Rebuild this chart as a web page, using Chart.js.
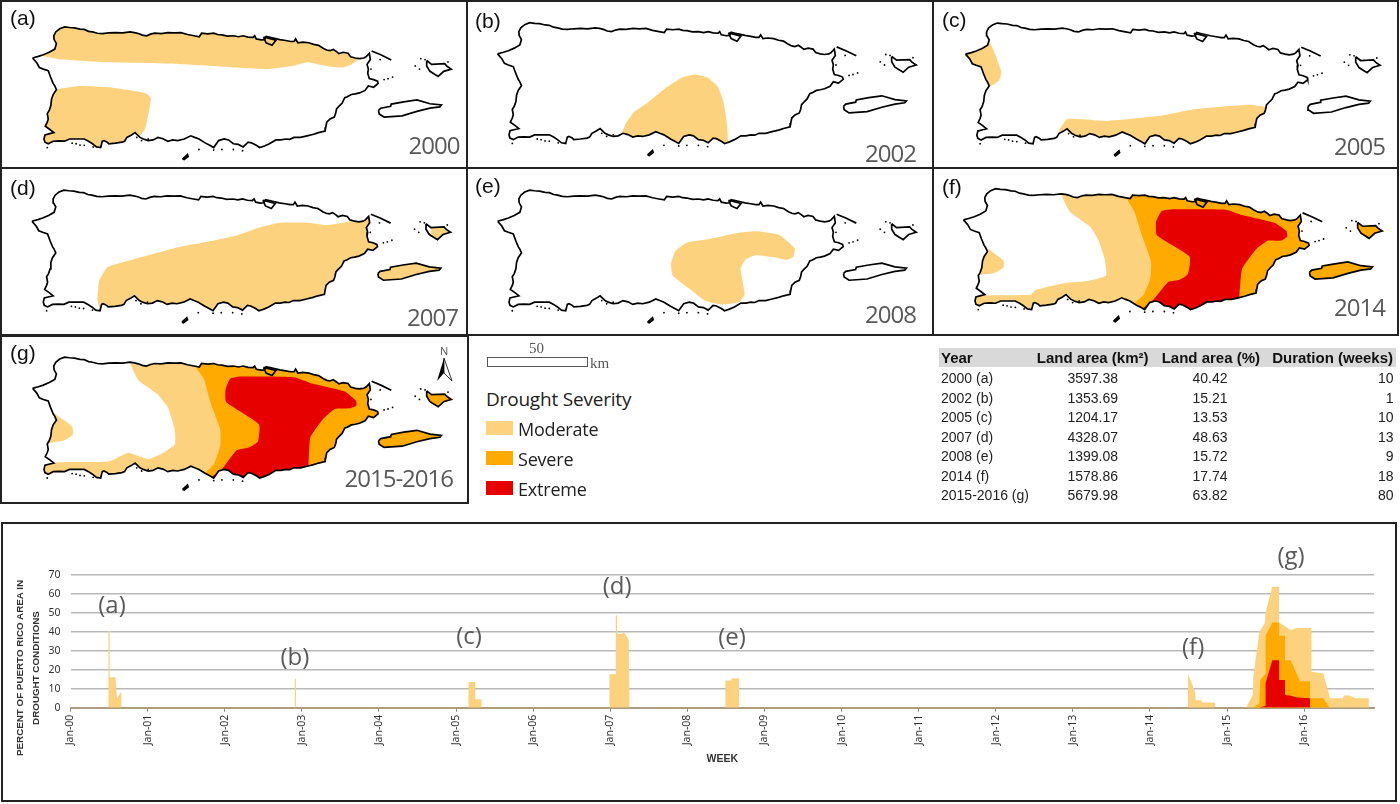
<!DOCTYPE html>
<html>
<head>
<meta charset="utf-8">
<title>Puerto Rico drought</title>
<script src="https://cdn.jsdelivr.net/npm/chart.js@4/dist/chart.umd.min.js"></script>
<style>
  html, body { margin: 0; padding: 0; background: #fff; }
  #page { position: relative; width: 1400px; height: 804px; overflow: hidden; }
  .box { position: absolute; box-sizing: border-box; border: 2px solid #222; }
  canvas { position: absolute; }
  .txt { position: absolute; white-space: nowrap; }
  .letter { font: 21px "Liberation Sans", Arial, sans-serif; color: #111; line-height: 24px; }
  .year { font: 24px "Open Sans", sans-serif; color: #595959; line-height: 24px; letter-spacing: -1px; }
  .legend { font: 18px "Open Sans", sans-serif; color: #222; line-height: 24px; letter-spacing: -0.2px; }
  .swatch { position: absolute; width: 27px; height: 14px; }
  .cell { font: 14px "Liberation Sans", Arial, sans-serif; color: #222; line-height: 18px; }
  .head { font: bold 15px "Liberation Sans", Arial, sans-serif; color: #111; line-height: 18px; }
  .serif { font: 15px "Liberation Serif", serif; color: #555; line-height: 14px; }
</style>
</head>
<body>
<div id="page"></div>
<script>
// Drought time series: x in years after Jan-00, y in percent of land area
const moderateYears = [0, 0.492, 0.492, 0.509, 0.509, 0.584, 0.602, 0.66, 0.66,
  2.91, 2.91, 2.925, 2.925,
  5.162, 5.162, 5.249, 5.249, 5.33, 5.33,
  6.99, 6.99, 7.072, 7.072, 7.09, 7.09, 7.159, 7.176, 7.24, 7.25,
  8.493, 8.493, 8.571, 8.571, 8.671, 8.671,
  14.494, 14.494, 14.585, 14.594, 14.672, 14.672, 14.845, 14.845,
  15.247, 15.333, 15.342, 15.42, 15.49, 15.50, 15.587, 15.675, 15.675, 15.752, 15.826, 15.912,
  16.095, 16.095, 16.25, 16.336, 16.50, 16.517, 16.595, 16.66, 16.84, 16.84];
const moderateValues = [0, 0, 40.42, 40.42, 16, 16, 5, 8.5, 0,
  0, 15.21, 15.21, 0,
  0, 13.53, 13.53, 4.5, 4.5, 0,
  0, 17.7, 17.7, 48.63, 48.63, 39, 39, 40, 36, 0,
  0, 14.4, 14.4, 15.5, 15.5, 0,
  0, 17.74, 8.4, 3.9, 3.9, 2.8, 2.8, 0,
  0, 6.7, 17, 40, 44.5, 50.6, 63.82, 63.82, 45, 43, 41, 42,
  42, 19, 18, 5, 5, 6.5, 6.5, 5, 5, 0];
const severeYears = [15.333, 15.42, 15.43, 15.50, 15.50, 15.587, 15.675, 15.675, 15.752, 15.752, 15.826, 15.912, 15.947, 16.077, 16.077, 16.25, 16.33];
const severeValues = [0, 2.3, 14.6, 18, 38, 45, 45, 38, 38, 25, 25, 17, 14, 14, 5, 5, 0];
const extremeYears = [15.42, 15.50, 15.50, 15.587, 15.675, 15.675, 15.752, 15.752, 15.826, 15.912, 16.077, 16.077];
const extremeValues = [0, 1, 13, 25, 25, 14.6, 14.6, 6.7, 6.3, 5.4, 5, 0];
const yearTicks = ['Jan-00', 'Jan-01', 'Jan-02', 'Jan-03', 'Jan-04', 'Jan-05', 'Jan-06', 'Jan-07', 'Jan-08',
  'Jan-09', 'Jan-10', 'Jan-11', 'Jan-12', 'Jan-13', 'Jan-14', 'Jan-15', 'Jan-16'];
const eventLetters = ['(a)', '(b)', '(c)', '(d)', '(e)', '(f)', '(g)'];
const eventYears = [0.538, 2.91, 5.17, 7.09, 8.58, 14.56, 15.83];
const eventHeights = [53.6, 26.2, 37.3, 63.7, 36.8, 31.5, 79.5];

// Table
const tablePeriods = ['2000 (a)', '2002 (b)', '2005 (c)', '2007 (d)', '2008 (e)', '2014 (f)', '2015-2016 (g)'];
const tableArea = ['3597.38', '1353.69', '1204.17', '4328.07', '1399.08', '1578.86', '5679.98'];
const tablePercent = ['40.42', '15.21', '13.53', '48.63', '15.72', '17.74', '63.82'];
const tableWeeks = ['10', '1', '10', '13', '9', '18', '80'];

const MODERATE = '#FDD27F';
const SEVERE = '#FFAA00';
const EXTREME = '#E60000';

// Map shapes, traced in map units (1 unit = 1/3 pixel)
const coast = [[87,170],[105,165],[120,160],[138,152],[155,142],[160,125],[153,112],[152,100],[158,88],[170,78],[185,72],[200,74],[215,75],[232,79],[245,80],[258,86],[270,88],[285,92],[300,93],[320,91],[340,90],[362,91],[385,88],[398,90],[410,93],[422,98],[435,100],[447,95],[460,92],[480,93],[500,90],[520,91],[540,90],[560,96],[580,100],[596,103],[603,92],[622,94],[640,92],[652,96],[665,97],[682,101],[700,100],[716,103],[730,100],[745,104],[760,105],[765,100],[770,110],[785,113],[795,112],[800,102],[812,105],[825,108],[842,112],[860,115],[875,118],[885,118],[890,110],[897,122],[912,120],[930,122],[945,127],[960,130],[975,140],[985,145],[995,147],[1005,143],[1015,150],[1022,156],[1035,152],[1050,155],[1058,166],[1072,170],[1085,172],[1098,170],[1105,166],[1115,155],[1118,175],[1108,190],[1112,205],[1110,218],[1115,235],[1128,238],[1140,243],[1142,250],[1128,262],[1112,258],[1102,272],[1085,280],[1072,283],[1060,285],[1048,292],[1040,295],[1032,312],[1022,322],[1015,330],[1012,345],[1008,356],[995,362],[985,372],[982,388],[980,400],[960,405],[945,410],[925,415],[905,420],[885,420],[872,426],[860,425],[845,428],[830,428],[810,440],[795,447],[780,452],[770,445],[755,437],[745,435],[730,450],[715,442],[700,440],[685,428],[672,425],[655,430],[640,452],[628,445],[615,438],[595,425],[582,420],[570,415],[550,425],[530,430],[515,428],[500,432],[485,424],[470,420],[455,428],[440,430],[425,425],[415,420],[405,410],[400,405],[388,413],[375,420],[368,432],[360,435],[340,438],[320,440],[315,435],[305,430],[300,432],[295,452],[282,450],[270,440],[258,432],[245,425],[222,425],[200,425],[185,432],[168,431],[150,432],[135,440],[125,435],[122,425],[125,412],[140,408],[152,405],[140,395],[126,385],[132,372],[135,362],[132,345],[138,335],[143,320],[145,300],[150,285],[160,270],[155,258],[150,250],[142,230],[135,210],[120,205],[108,200],[100,185],[87,170]];
const vieques = [[1143,335],[1150,328],[1180,322],[1182,315],[1220,308],[1260,302],[1300,314],[1335,318],[1330,324],[1300,328],[1260,338],[1215,352],[1160,356],[1145,346],[1143,335]];
const culebra = [[1290,178],[1305,190],[1345,188],[1352,196],[1365,205],[1342,212],[1325,228],[1300,212],[1290,195],[1290,178]];
const cajaMuertos = [[545,488],[560,474],[562,480],[550,490],[545,488]];
const condado = [[792,104],[830,114],[818,130],[800,122],[792,104]];
const cays = [[1122,148],[1150,160],[1182,176]];
const islets = [[1160,238],[1172,235],[1186,230],[1255,195],[1268,205],[1272,172],[1285,175],[1355,182],[1148,175],[1120,205],[132,452],[208,438],[220,440],[232,444],[245,445],[272,450],[405,420],[420,430],[440,425],[595,458],[640,460],[665,458],[700,458],[728,462]];

// Drought zones per panel, traced in that panel's frame
const zonesA = [
  { color: MODERATE, shape: [[125,165],[180,175],[300,183],[500,187],[600,193],[700,200],[800,205],[880,195],[925,183],[985,195],[1030,200],[1055,193],[1085,172],[1100,100],[100,40],[100,160],[125,165]] },
  { color: MODERATE, shape: [[160,268],[230,258],[320,262],[430,280],[448,295],[440,350],[430,395],[415,415],[400,480],[100,480],[100,300],[160,268]] }
];
const zonesB = [
  { color: MODERATE, shape: [[456,415],[470,375],[495,340],[530,315],[590,265],[640,232],[680,222],[720,232],[750,260],[768,310],[778,375],[782,440],[782,490],[456,490],[456,415]] }
];
const zonesC = [
  { color: MODERATE, shape: [[160,115],[178,160],[196,215],[190,240],[165,258],[100,270],[60,160],[160,115]] },
  { color: MODERATE, shape: [[372,398],[398,362],[520,368],[680,352],[780,332],[950,317],[1005,325],[1060,360],[1000,480],[372,480],[372,398]] }
];
const zonesD = [
  { color: MODERATE, shape: [[285,400],[290,345],[315,300],[360,285],[520,240],[620,220],[710,200],[780,175],[840,160],[930,160],[985,167],[1060,155],[1130,140],[1140,300],[1000,480],[300,480],[293,440],[285,400]] },
  { color: MODERATE, shape: [[1130,270],[1350,270],[1350,360],[1130,360],[1130,270]] },
  { color: MODERATE, shape: [[1305,170],[1380,170],[1380,225],[1305,225],[1305,170]] }
];
const zonesE = [
  { color: MODERATE, shape: [[607,290],[620,250],[655,223],[720,212],[810,192],[865,187],[935,197],[985,240],[980,268],[960,277],[920,268],[865,262],[835,275],[820,305],[832,385],[815,410],[760,417],[710,405],[660,365],[612,325],[607,290]] }
];
const zonesF = [
  { color: EXTREME, shape: [[635,440],[670,410],[715,355],[750,348],[775,330],[780,275],[680,208],[678,165],[695,132],[725,127],[890,128],[940,145],[1040,170],[1075,195],[1078,212],[1060,225],[1020,225],[985,250],[940,315],[930,415],[900,490],[640,490],[635,440]] },
  { color: SEVERE, shape: [[590,60],[590,95],[612,135],[635,210],[662,290],[660,345],[640,395],[610,425],[635,445],[640,500],[1400,500],[1400,60],[590,60]] },
  { color: MODERATE, shape: [[390,60],[390,85],[415,135],[475,180],[500,220],[520,280],[525,335],[470,352],[400,358],[310,380],[295,395],[125,403],[100,500],[700,500],[700,60],[390,60]] },
  { color: MODERATE, shape: [[150,240],[212,288],[212,310],[185,327],[147,332],[100,340],[100,230],[150,240]] }
];
const zonesG = [
  { color: EXTREME, shape: [[635,432],[665,410],[710,350],[750,340],[775,322],[778,268],[678,198],[676,160],[690,125],[720,118],[885,120],[940,140],[1040,165],[1075,195],[1075,210],[1055,218],[1010,220],[975,250],[935,310],[928,408],[900,490],[640,490],[635,432]] },
  { color: SEVERE, shape: [[588,50],[588,92],[610,125],[630,200],[660,285],[660,335],[640,395],[610,425],[635,440],[640,500],[1400,500],[1400,50],[588,50]] },
  { color: MODERATE, shape: [[385,50],[385,75],[410,130],[470,175],[500,215],[520,280],[522,330],[490,355],[440,378],[378,358],[320,385],[130,393],[100,500],[700,500],[700,50],[385,50]] },
  { color: MODERATE, shape: [[150,232],[208,275],[210,300],[185,318],[147,325],[100,330],[100,225],[150,232]] }
];

const panels = [
  { id: 'a', year: '2000', zones: zonesA, view: [0, 0, 470, 170], sx: 1, dx: 0, dy: 0, letter: [10, 6], yearAt: [459.5, 154], frame: [0, 0, 468, 169] },
  { id: 'b', year: '2002', zones: zonesB, view: [468, 0, 466, 170], sx: 1, dx: -9, dy: -13, letter: [475, 9], yearAt: [916, 162], frame: [466, 0, 468, 169] },
  { id: 'c', year: '2005', zones: zonesC, view: [933, 0, 467, 170], sx: 0.99, dx: 0.9, dy: -12, letter: [942, 8], yearAt: [1385, 155], frame: [932, 0, 467, 169] },
  { id: 'd', year: '2007', zones: zonesD, view: [0, 168, 468, 168], sx: 1, dx: -2, dy: -15, letter: [10, 176], yearAt: [458, 326], frame: [0, 167, 468, 169] },
  { id: 'e', year: '2008', zones: zonesE, view: [468, 168, 466, 168], sx: 1, dx: -9, dy: -15, letter: [475, 174], yearAt: [916, 323], frame: [466, 167, 468, 169] },
  { id: 'f', year: '2014', zones: zonesF, view: [930, 165, 470, 175], sx: 1, dx: 3, dy: -10, letter: [942, 175], yearAt: [1385, 316], frame: [932, 167, 467, 169] },
  { id: 'g', year: '2015-2016', zones: zonesG, view: [0, 335, 470, 175], sx: 1, dx: 0, dy: -15, letter: [10, 341], yearAt: [453, 487], frame: [0, 335, 469, 169] }
];

const page = document.getElementById('page');

function addText(cls, text, left, top, right) {
  const el = document.createElement('div');
  el.className = 'txt ' + cls;
  el.textContent = text;
  el.style.top = top + 'px';
  if (right !== undefined) el.style.right = (1400 - right) + 'px';
  else el.style.left = left + 'px';
  page.appendChild(el);
  return el;
}

function toPoints(list, sx, dx, dy) {
  return list.map(p => ({ x: p[0] * sx + dx, y: p[1] + dy }));
}

// Keeps the drought fills inside the land shapes
const landClip = {
  id: 'landClip',
  beforeDatasetsDraw(chart, args, opts) {
    const { x, y } = chart.scales;
    const ctx = chart.ctx;
    ctx.save();
    ctx.beginPath();
    opts.shapes.forEach(shape => {
      shape.forEach((p, i) => {
        const px = x.getPixelForValue(p.x), py = y.getPixelForValue(p.y);
        if (i === 0) ctx.moveTo(px, py); else ctx.lineTo(px, py);
      });
      ctx.closePath();
    });
    ctx.clip();
  },
  afterDatasetDraw(chart, args, opts) {
    if (args.index === opts.lastFill) chart.ctx.restore();
  }
};

function drawMap(panel) {
  const [left, top, w, h] = panel.view;
  const canvas = document.createElement('canvas');
  canvas.width = w;
  canvas.height = h;
  canvas.style.left = left + 'px';
  canvas.style.top = top + 'px';
  page.appendChild(canvas);

  const land = [coast, vieques, culebra, cajaMuertos].map(s => toPoints(s, panel.sx, panel.dx, panel.dy));
  const lineSets = land.concat([toPoints(condado, panel.sx, panel.dx, panel.dy), toPoints(cays, panel.sx, panel.dx, panel.dy)]).map(points => ({
    data: points, showLine: true, borderColor: '#000', borderWidth: 1.7, pointRadius: 0, fill: false
  }));
  lineSets.push({
    data: toPoints(islets, panel.sx, panel.dx, panel.dy), showLine: false, pointRadius: 0.9, backgroundColor: '#000', borderWidth: 0
  });
  const fillSets = panel.zones.map(z => ({
    data: toPoints(z.shape, 1, 0, 0), showLine: true, borderWidth: 0, pointRadius: 0, tension: 0.15,
    fill: 'shape', backgroundColor: z.color, borderColor: z.color
  }));

  new Chart(canvas.getContext('2d'), {
    type: 'scatter',
    data: { datasets: lineSets.concat(fillSets) },
    options: {
      responsive: false,
      animation: false,
      devicePixelRatio: 1,
      layout: { padding: 0 },
      scales: {
        x: { type: 'linear', display: false, min: 0, max: w * 3 },
        y: { type: 'linear', display: false, min: 0, max: h * 3, reverse: true }
      },
      plugins: {
        legend: { display: false },
        tooltip: { enabled: false },
        landClip: { shapes: land, lastFill: lineSets.length }
      }
    },
    plugins: [landClip]
  });
}

function drawFrames() {
  panels.forEach(p => {
    const el = document.createElement('div');
    el.className = 'box';
    el.style.left = p.frame[0] + 'px';
    el.style.top = p.frame[1] + 'px';
    el.style.width = p.frame[2] + 'px';
    el.style.height = p.frame[3] + 'px';
    page.appendChild(el);
  });
  const bottom = document.createElement('div');
  bottom.className = 'box';
  bottom.style.cssText = 'left:1px;top:522px;width:1396px;height:280px;';
  page.appendChild(bottom);
}

function drawPanelText() {
  panels.forEach(p => {
    addText('letter', '(' + p.id + ')', p.letter[0], p.letter[1]);
    addText('year', p.year, 0, p.yearAt[1] - 21, p.yearAt[0]);
  });
}

function drawLegend() {
  addText('legend', 'Drought Severity', 486, 387).style.fontSize = '19px';
  const names = ['Moderate', 'Severe', 'Extreme'];
  const colors = [MODERATE, SEVERE, EXTREME];
  const tops = [421, 451, 481];
  names.forEach((name, i) => {
    const sw = document.createElement('div');
    sw.className = 'swatch';
    sw.style.cssText = 'left:486px;top:' + tops[i] + 'px;background:' + colors[i];
    page.appendChild(sw);
    addText('legend', name, 518, tops[i] - 4);
  });
  // scale bar
  const bar = document.createElement('div');
  bar.style.cssText = 'position:absolute;left:487px;top:357px;width:99px;height:8px;border:1px solid #555;';
  page.appendChild(bar);
  addText('serif', '50', 529, 341);
  addText('serif', 'km', 590, 356);
  // north arrow
  const north = addText('serif', 'N', 440, 344);
  north.style.font = '11px "Open Sans", sans-serif';
  north.style.lineHeight = '14px';
  page.insertAdjacentHTML('beforeend',
    '<svg style="position:absolute;left:430px;top:356px" width="24" height="28">' +
    '<polygon points="14,2 7,25 14,17" fill="#000"/>' +
    '<polygon points="14,2 22,25 14,17" fill="#fff" stroke="#000" stroke-width="0.8"/></svg>');
}

function drawTable() {
  const head = document.createElement('div');
  head.style.cssText = 'position:absolute;left:939px;top:348px;width:457px;height:19px;background:#D9D9D9;';
  page.appendChild(head);
  addText('head', 'Year', 941, 349);
  addText('head', 'Land area (km²)', 0, 349, 1148.5);
  addText('head', 'Land area (%)', 0, 349, 1260);
  addText('head', 'Duration (weeks)', 0, 349, 1393);
  const rowTops = [369, 389, 408, 428, 447, 467, 486];
  tablePeriods.forEach((period, i) => {
    addText('cell', period, 941, rowTops[i]);
    addText('cell', tableArea[i], 0, rowTops[i], 1118);
    addText('cell', tablePercent[i], 0, rowTops[i], 1227.5);
    addText('cell', tableWeeks[i], 0, rowTops[i], 1393.5);
  });
}

// Letters above each drought event, placed through the chart's scales
const eventLabels = {
  id: 'eventLabels',
  afterDatasetsDraw(chart) {
    const { x, y } = chart.scales;
    const ctx = chart.ctx;
    ctx.save();
    ctx.font = '24px "Open Sans", sans-serif';
    ctx.fillStyle = '#595959';
    ctx.textAlign = 'center';
    ctx.textBaseline = 'middle';
    eventLetters.forEach((t, i) => {
      ctx.fillText(t, x.getPixelForValue(eventYears[i]), y.getPixelForValue(eventHeights[i]));
    });
    ctx.restore();
  }
};

function zip(xs, ys) {
  return xs.map((v, i) => ({ x: v, y: ys[i] }));
}

function drawSeries() {
  const canvas = document.createElement('canvas');
  canvas.width = 1394;
  canvas.height = 276;
  canvas.style.left = '2px';
  canvas.style.top = '524px';
  page.appendChild(canvas);

  const area = (label, xs, ys, color) => ({
    label: label, data: zip(xs, ys), showLine: true, borderWidth: 0, pointRadius: 0,
    fill: 'origin', backgroundColor: color, borderColor: color
  });

  new Chart(canvas.getContext('2d'), {
    type: 'scatter',
    data: {
      datasets: [
        area('Extreme', extremeYears, extremeValues, EXTREME),
        area('Severe', severeYears, severeValues, SEVERE),
        area('Moderate', moderateYears, moderateValues, MODERATE)
      ]
    },
    options: {
      responsive: false,
      animation: false,
      devicePixelRatio: 1,
      layout: { padding: { top: 51, right: 22, left: 0, bottom: 0 } },
      scales: {
        x: {
          type: 'linear',
          min: 0,
          max: 16.906,
          afterFit: s => { s.height = 92.3; },
          border: { color: '#AD9C7E', width: 2 },
          grid: { drawOnChartArea: false, drawTicks: true, tickLength: 4, color: '#888' },
          ticks: {
            stepSize: 1,
            includeBounds: false,
            maxRotation: 90,
            minRotation: 90,
            color: '#333',
            font: { family: 'Noto Sans', size: 10.5 },
            callback: v => yearTicks[v]
          },
          title: {
            display: true,
            text: 'WEEK',
            color: '#333',
            font: { family: 'Liberation Sans', size: 10.5, weight: 'bold' },
            padding: { top: 0, bottom: 35 }
          }
        },
        y: {
          min: 0,
          max: 70,
          afterFit: s => { s.width = 68.5; },
          border: { display: false },
          grid: { color: '#B8B8B8', lineWidth: 1.5, drawTicks: false },
          ticks: {
            stepSize: 10,
            padding: 10,
            color: '#333',
            font: { family: 'Noto Sans', size: 10.5 }
          }
        }
      },
      plugins: {
        legend: { display: false },
        tooltip: { enabled: false }
      }
    },
    plugins: [eventLabels]
  });

  // y title sits off-centre from the axis in the original
  const title = addText('', 'PERCENT OF PUERTO RICO AREA IN', 20, 668);
  const title2 = addText('', 'DROUGHT CONDITIONS', 35.7, 668);
  [title, title2].forEach(el => {
    el.style.font = 'bold 9.8px "Liberation Sans", Arial, sans-serif';
    el.style.color = '#333';
    el.style.lineHeight = '12px';
    el.style.transform = 'translate(-50%, -50%) rotate(-90deg)';
  });
}

drawFrames();
panels.forEach(drawMap);
drawPanelText();
drawLegend();
drawTable();
drawSeries();
</script>
</body>
</html>
